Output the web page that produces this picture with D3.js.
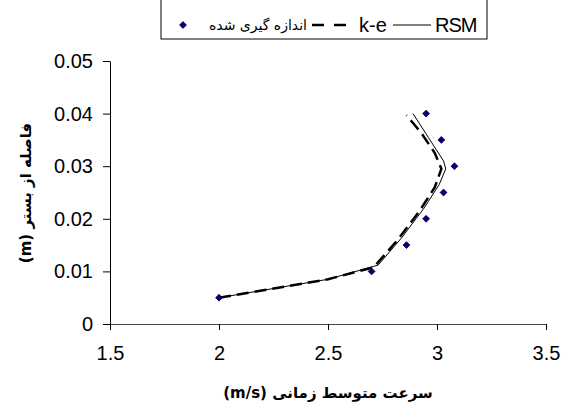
<!DOCTYPE html>
<html>
<head>
<meta charset="utf-8">
<script src="https://cdn.jsdelivr.net/npm/d3@7"></script>
<style>
  body { margin: 0; background: #fff; }
  svg { display: block; }
  .tick text { font-family: "Liberation Sans", Arial, sans-serif; }
</style>
</head>
<body>
<svg width="563" height="406"></svg>
<script>
const xTicks = [1.5, 2, 2.5, 3, 3.5];
const yTicks = [0, 0.01, 0.02, 0.03, 0.04, 0.05];

// measured (اندازه گیری شده)
const measured = [
  [2.0, 0.005], [2.7, 0.010], [2.86, 0.015], [2.95, 0.020],
  [3.03, 0.025], [3.08, 0.030], [3.02, 0.035], [2.95, 0.040],
];
// k-e model
const kE = [
  [2.0, 0.005], [2.5, 0.0085], [2.71, 0.0108], [2.82, 0.016],
  [2.92, 0.0215], [2.99, 0.026], [3.02, 0.0295], [2.99, 0.0325],
  [2.93, 0.0362], [2.86, 0.0397],
];
// RSM model
const rsm = [
  [2.0, 0.005], [2.5, 0.0085], [2.73, 0.0112], [2.84, 0.0165],
  [2.94, 0.022], [3.01, 0.0265], [3.04, 0.0295], [3.03, 0.031],
  [2.96, 0.0355], [2.89, 0.0400],
];

const svg = d3.select('svg');
const x = d3.scaleLinear().domain([1.5, 3.5]).range([110, 546]);
const y = d3.scaleLinear().domain([0, 0.05]).range([324, 61]);

const fmtY = (d) => (d === 0 ? '0' : d3.format('.2f')(d));

const gx = svg.append('g')
  .attr('transform', `translate(0,${y(0)})`)
  .call(d3.axisBottom(x).tickValues(xTicks).tickFormat(d3.format('')).tickSizeInner(6).tickSizeOuter(0).tickPadding(16));
const gy = svg.append('g')
  .attr('transform', `translate(${x(1.5)},0)`)
  .call(d3.axisLeft(y).tickValues(yTicks).tickFormat(fmtY).tickSizeInner(7).tickSizeOuter(0).tickPadding(10));

svg.selectAll('.domain').attr('stroke', '#000');
svg.selectAll('.tick line').attr('stroke', '#000');
svg.selectAll('.tick text').attr('font-size', 20).attr('fill', '#000');
gx.select('.domain').attr('stroke', '#444');

const line = d3.line().x((d) => x(d[0])).y((d) => y(d[1]));

svg.append('path')
  .datum(rsm)
  .attr('d', line)
  .attr('fill', 'none')
  .attr('stroke', '#000')
  .attr('stroke-width', 1);

svg.append('path')
  .datum(kE)
  .attr('d', line)
  .attr('fill', 'none')
  .attr('stroke', '#000')
  .attr('stroke-width', 2.5)
  .attr('stroke-dasharray', '12,6');

const diamond = d3.symbol().type(d3.symbolDiamond2).size(30);
svg.selectAll('.pt')
  .data(measured)
  .join('path')
  .attr('class', 'pt')
  .attr('d', diamond)
  .attr('transform', (d) => `translate(${x(d[0])},${y(d[1])})`)
  .attr('fill', '#000080')
  .attr('stroke', '#000033')
  .attr('stroke-width', 0.8);

// axis titles
svg.append('text')
  .attr('x', 328)
  .attr('y', 398)
  .attr('text-anchor', 'middle')
  .attr('font-family', 'DejaVu Sans, sans-serif')
  .attr('font-weight', 'bold')
  .attr('font-size', 15)
  .attr('direction', 'rtl')
  .text('سرعت متوسط زمانی (m/s)');

svg.append('text')
  .attr('transform', 'translate(31,193) rotate(-90)')
  .attr('text-anchor', 'middle')
  .attr('font-family', 'DejaVu Sans, sans-serif')
  .attr('font-weight', 'bold')
  .attr('font-size', 15)
  .attr('direction', 'rtl')
  .text('فاصله از بستر (m)');

// legend
const lg = svg.append('g');
lg.append('rect')
  .attr('x', 161).attr('y', -2).attr('width', 326).attr('height', 41)
  .attr('fill', '#fff').attr('stroke', '#000').attr('stroke-width', 1);

lg.append('path')
  .attr('d', diamond)
  .attr('transform', 'translate(183,25)')
  .attr('fill', '#000080')
  .attr('stroke', '#000033')
  .attr('stroke-width', 0.8);
lg.append('text')
  .attr('x', 258).attr('y', 30)
  .attr('text-anchor', 'middle')
  .attr('font-family', 'DejaVu Sans, sans-serif')
  .attr('font-size', 14)
  .attr('direction', 'rtl')
  .text('اندازه گیری شده');

lg.append('line')
  .attr('x1', 312).attr('x2', 348).attr('y1', 25).attr('y2', 25)
  .attr('stroke', '#000').attr('stroke-width', 2.5).attr('stroke-dasharray', '12,10');
lg.append('text')
  .attr('x', 359).attr('y', 32)
  .attr('font-family', 'Liberation Sans, Arial, sans-serif')
  .attr('font-size', 20)
  .text('k-e');

lg.append('line')
  .attr('x1', 393).attr('x2', 431).attr('y1', 25).attr('y2', 25)
  .attr('stroke', '#000').attr('stroke-width', 1);
lg.append('text')
  .attr('x', 435).attr('y', 32)
  .attr('font-family', 'Liberation Sans, Arial, sans-serif')
  .attr('font-size', 20)
  .attr('letter-spacing', -1)
  .text('RSM');
</script>
</body>
</html>
